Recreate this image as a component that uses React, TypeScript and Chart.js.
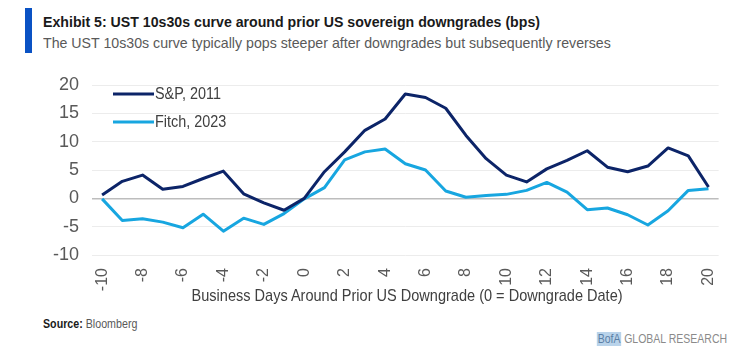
import React, { useEffect, useRef } from "react";
import { Chart, registerables } from "chart.js";

Chart.register(...registerables);

const days = ["-10","-9","-8","-7","-6","-5","-4","-3","-2","-1","0","1","2","3","4","5","6","7","8","9","10","11","12","13","14","15","16","17","18","19","20"];
const sp2011 = [0.6, 3.0, 4.1, 1.6, 2.1, 3.5, 4.8, 0.8, -0.8, -2.1, 0.0, 4.7, 8.2, 12.0, 14.0, 18.4, 17.8, 15.9, 11.1, 7.0, 4.1, 2.9, 5.2, 6.7, 8.4, 5.5, 4.7, 5.7, 8.9, 7.5, 2.0];
const fitch2023 = [-0.1, -3.9, -3.6, -4.2, -5.2, -2.8, -5.8, -3.5, -4.6, -2.7, -0.1, 1.9, 6.8, 8.2, 8.7, 6.1, 5.0, 1.3, 0.2, 0.5, 0.7, 1.4, 2.8, 1.1, -2.0, -1.7, -2.9, -4.7, -2.2, 1.4, 1.7];
const seriesNames = ["S&P, 2011", "Fitch, 2023"];
const seriesColors = ["#0c2468", "#17a6e0"];
const yTicks = { min: -10, max: 20, step: 5 };

const FONT = "'Liberation Sans', Arial, sans-serif";

const legendPlugin = {
  id: "insideLegend",
  afterDraw(chart: any) {
    const { ctx, chartArea } = chart;
    ctx.save();
    chart.data.datasets.forEach((ds: any, i: number) => {
      const y = chartArea.top + 9 + i * 28;
      const x0 = chartArea.left + 21;
      ctx.strokeStyle = ds.borderColor;
      ctx.lineWidth = 3;
      ctx.beginPath();
      ctx.moveTo(x0, y);
      ctx.lineTo(x0 + 41, y);
      ctx.stroke();
      ctx.fillStyle = "#404040";
      ctx.font = `16px ${FONT}`;
      ctx.textBaseline = "middle";
      ctx.textAlign = "left";
      ctx.save();
      ctx.translate(x0 + 42, y + 1);
      ctx.scale(0.9, 1);
      ctx.fillText(ds.label, 0, 0);
      ctx.restore();
    });
    ctx.restore();
  },
};

const cond = (s: number, origin = "left center") => ({ transform: `scaleX(${s})`, transformOrigin: origin });

export default function App() {
  const ref = useRef<HTMLCanvasElement>(null);
  useEffect(() => {
    if (!ref.current) return;
    const chart = new Chart(ref.current, {
      type: "line",
      data: {
        labels: days,
        datasets: [
          { label: seriesNames[0], data: sp2011, borderColor: seriesColors[0], backgroundColor: seriesColors[0], borderWidth: 3, pointRadius: 0, tension: 0, borderJoinStyle: "round" },
          { label: seriesNames[1], data: fitch2023, borderColor: seriesColors[1], backgroundColor: seriesColors[1], borderWidth: 3, pointRadius: 0, tension: 0, borderJoinStyle: "round" },
        ],
      },
      options: {
        animation: false,
        responsive: false,
        maintainAspectRatio: false,
        layout: { padding: { top: 25, right: 18, left: 0, bottom: 0 } },
        plugins: { legend: { display: false }, tooltip: { enabled: false } },
        scales: {
          x: {
            type: "category",
            offset: true,
            grid: { display: false, drawTicks: false },
            border: { display: false },
            afterFit: (s: any) => { s.height = 51; },
            ticks: {
              autoSkip: false,
              minRotation: 90,
              maxRotation: 90,
              padding: 13,
              color: "#595959",
              font: { family: FONT, size: 16 },
              callback: function (this: any, v: any) {
                const l = this.getLabelForValue(v);
                return Number(l) % 2 === 0 ? l : "";
              },
            },
          },
          y: {
            min: yTicks.min,
            max: yTicks.max,
            afterFit: (s: any) => { s.width = 92; },
            border: { display: false },
            grid: {
              drawTicks: false,
              color: (c: any) => (c.tick && c.tick.value === 0 ? "#bdbdbd" : "#ececec"),
              lineWidth: (c: any) => (c.tick && c.tick.value === 0 ? 1.5 : 1),
            },
            ticks: {
              stepSize: yTicks.step,
              padding: 13,
              color: "#595959",
              font: { family: FONT, size: 18 },
            },
          },
        },
      },
      plugins: [legendPlugin],
    });
    return () => chart.destroy();
  }, []);

  return (
    <div style={{ position: "absolute", left: 0, top: 0, width: 741, height: 350, background: "#fff", fontFamily: FONT, overflow: "hidden" }}>
      <div style={{ position: "absolute", left: 25, top: 8, width: 7, height: 45, background: "#0a52c4" }} />
      <div style={{ position: "absolute", left: 43, top: 12, fontSize: 15.5, fontWeight: "bold", color: "#1a1a1a", whiteSpace: "nowrap", lineHeight: "20px", ...cond(0.913) }}>
        Exhibit 5: UST 10s30s curve around prior US sovereign downgrades (bps)
      </div>
      <div style={{ position: "absolute", left: 43, top: 33, fontSize: 15, color: "#595959", whiteSpace: "nowrap", lineHeight: "20px", ...cond(0.945) }}>
        The UST 10s30s curve typically pops steeper after downgrades but subsequently reverses
      </div>
      <canvas ref={ref} width={741} height={246} style={{ position: "absolute", left: 0, top: 60, width: 741, height: 246 }} />
      <div style={{ position: "absolute", left: 92, width: 631, top: 286, textAlign: "center", fontSize: 17, color: "#404040", whiteSpace: "nowrap", lineHeight: "20px" }}>
        <span style={{ display: "inline-block", ...cond(0.855, "center center") }}>
          Business Days Around Prior US Downgrade (0 = Downgrade Date)
        </span>
      </div>
      <div style={{ position: "absolute", left: 43, top: 316, fontSize: 12, color: "#595959", whiteSpace: "nowrap", lineHeight: "16px", ...cond(0.89) }}>
        <span style={{ fontWeight: "bold", color: "#1a1a1a" }}>Source:</span> Bloomberg
      </div>
      <div style={{ position: "absolute", right: 14, top: 332, fontSize: 12.5, color: "#8a8a8a", whiteSpace: "nowrap", lineHeight: "15px", ...cond(0.84, "right center") }}>
        <span style={{ background: "#b9d3ea", color: "#5b7fa6", padding: "0 1px" }}>BofA</span> GLOBAL RESEARCH
      </div>
    </div>
  );
}
